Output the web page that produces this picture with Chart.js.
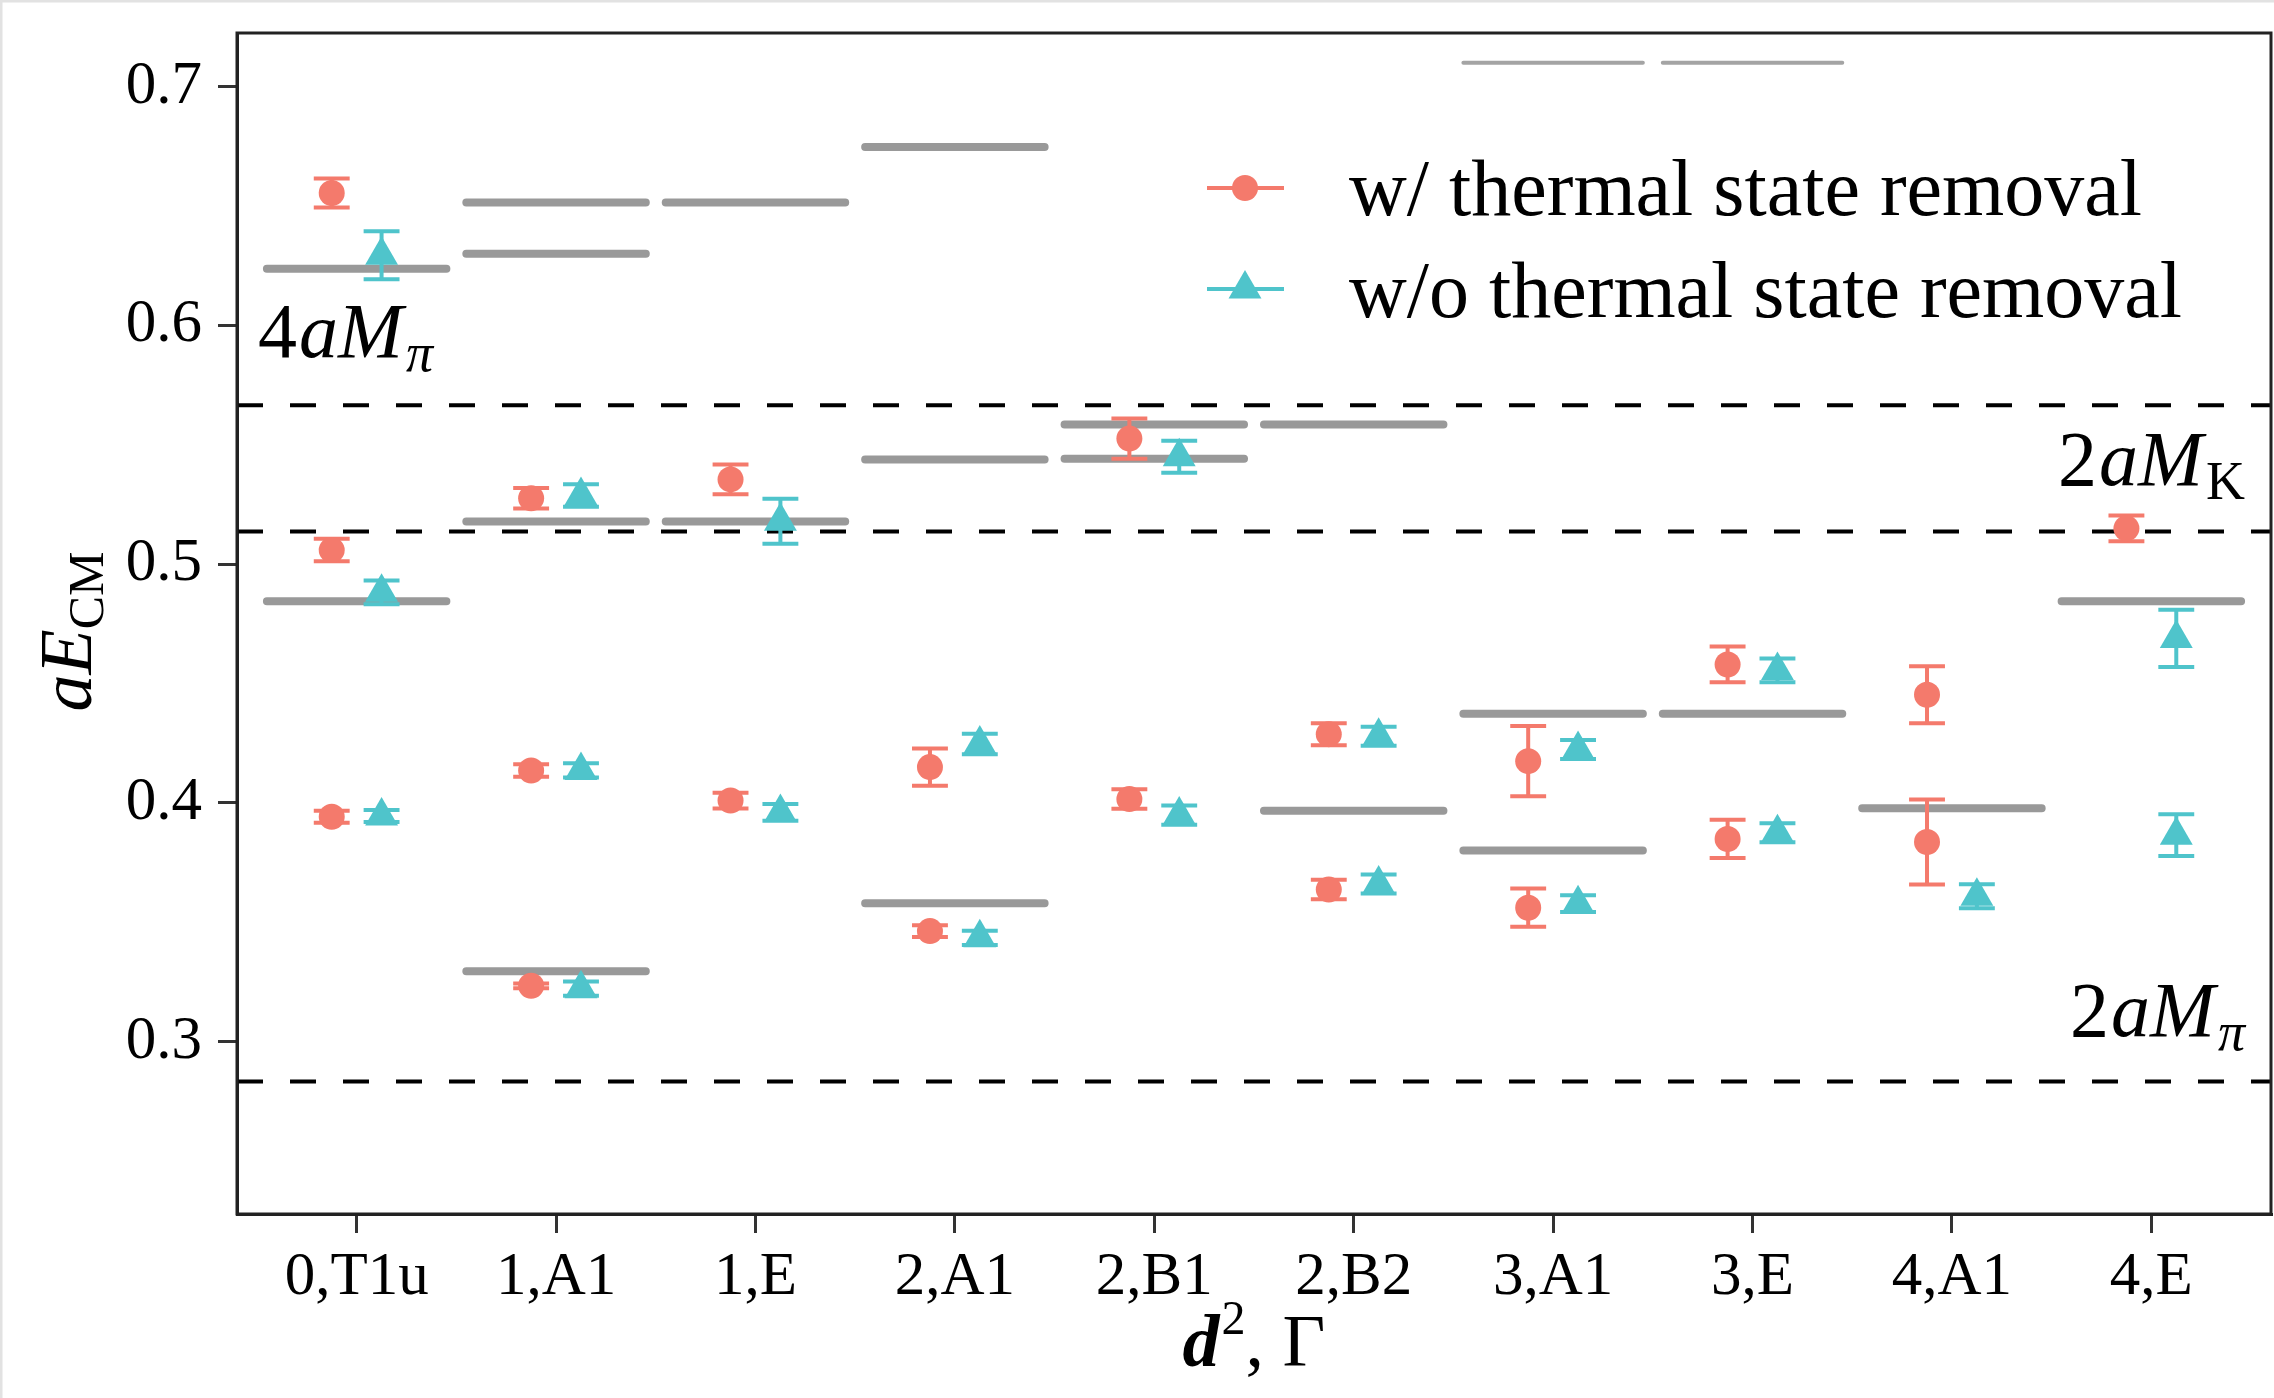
<!DOCTYPE html>
<html><head><meta charset="utf-8">
<script src="https://cdn.jsdelivr.net/npm/chart.js@4.4.0/dist/chart.umd.min.js"></script>
<style>html,body{margin:0;padding:0;background:#fff;overflow:hidden}canvas{display:block}</style>
</head><body>
<canvas id="c" width="2274" height="1398"></canvas>
<script>
// ---------- data ----------
const categories = ['0,T1u','1,A1','1,E','2,A1','2,B1','2,B2','3,A1','3,E','4,A1','4,E'];
const yTickValues = [0.3, 0.4, 0.5, 0.6, 0.7];
const legendLabels = ['w/ thermal state removal', 'w/o thermal state removal'];

// red circles: with thermal state removal
const withIdx = [0,0,0, 1,1,1, 2,2, 3,3, 4,4, 5,5, 6,6, 7,7, 8,8, 9];
const withVal = [0.6555,0.5059,0.3942, 0.5276,0.4136,0.3234, 0.5355,0.4010, 0.4150,0.3463, 0.5526,0.4016, 0.4288,0.3637, 0.4175,0.3561, 0.4580,0.3849, 0.4453,0.3836, 0.5150];
const withErr = [0.0061,0.0047,0.0025, 0.0043,0.0026,0.0010, 0.0062,0.0033, 0.0078,0.0025, 0.0084,0.0041, 0.0046,0.0041, 0.0147,0.0080, 0.0075,0.0080, 0.0119,0.0178, 0.0054];

// cyan triangles: without thermal state removal
const withoutIdx = [0,0,0, 1,1,1, 2,2, 3,3, 4,4, 5,5, 6,6, 7,7, 8, 9,9];
const withoutVal = [0.6294,0.4882,0.3945, 0.5288,0.4136,0.3222, 0.5180,0.3960, 0.4247,0.3435, 0.5450,0.3949, 0.4279,0.3660, 0.4224,0.3578, 0.4555,0.3875, 0.3609, 0.4689,0.3865];
const withoutErr = [0.0101,0.0050,0.0025, 0.0047,0.0030,0.0030, 0.0094,0.0035, 0.0043,0.0030, 0.0067,0.0040, 0.0040,0.0040, 0.0040,0.0035, 0.0050,0.0040, 0.0050, 0.0120,0.0087];

// grey levels (non-interacting energies)
const freeIdx = [0,0, 1,1,1,1, 2,2, 3,3,3, 4,4, 5,5, 6,6, 7, 8, 9];
const freeVal = [0.6238,0.4845, 0.6515,0.6300,0.5179,0.3295, 0.6515,0.5179, 0.6747,0.5438,0.3580, 0.5585,0.5442, 0.5585,0.3967, 0.4373,0.3801, 0.4373, 0.3978, 0.4845];
const freeHighIdx = [6, 7];
const freeHighVal = [0.7100, 0.7100];

// thresholds: 2aMpi, 4aMpi, 2aMK
const thresholdVals = [0.2833, 0.5666, 0.5137];

// ---------- styling ----------
const SERIF = '"Liberation Serif", "Times New Roman", serif';
const RED = '#F47A6C', CYAN = '#4FC4CB', GREY = '#999999';
const DODGE = 0.125, HALF = 0.45, CAP = 0.09;

function segments(idx, vals, half) {
  const pts = [];
  idx.forEach((c, k) => { pts.push({x: c - half, y: vals[k]}, {x: c + half, y: vals[k]}, {x: c + half, y: null}); });
  return pts;
}
function points(idx, vals, off) { return idx.map((c, k) => ({x: c + off, y: vals[k]})); }

const datasets = [];
datasets.push({type:'scatter', label:'with', data: points(withIdx, withVal, -DODGE), errors: withErr,
  pointStyle:'circle', pointRadius:13, pointHoverRadius:13, backgroundColor:RED, borderColor:RED, borderWidth:0, order:0});
datasets.push({type:'scatter', label:'without', data: points(withoutIdx, withoutVal, DODGE), errors: withoutErr,
  pointStyle:'triangle', pointRadius:19, pointHoverRadius:19, backgroundColor:CYAN, borderColor:CYAN, borderWidth:0, order:1});
datasets.push({type:'line', label:'free', data: segments(freeIdx, freeVal, HALF), borderColor:GREY, borderWidth:8,
  borderCapStyle:'round', pointRadius:0, spanGaps:false, tension:0, order:2});
datasets.push({type:'line', label:'freeHigh', data: segments(freeHighIdx, freeHighVal, HALF), borderColor:'#a4a4a4', borderWidth:4,
  borderCapStyle:'round', pointRadius:0, spanGaps:false, tension:0, order:3});
thresholdVals.forEach((v, k) => datasets.push({type:'line', label:'thr'+k, data:[{x:-0.6,y:v},{x:9.6,y:v}],
  borderColor:'#000', borderWidth:4, borderDash:[26,27], pointRadius:0, order:4}));

const errorBars = {
  id:'errorBars',
  beforeDatasetDraw(chart, args) {
    const ds = chart.data.datasets[args.index];
    if (!ds.errors) return;
    const {ctx, scales:{x, y}} = chart;
    ctx.save();
    ctx.strokeStyle = ds.borderColor; ctx.lineWidth = 4;
    ds.data.forEach((p, k) => {
      const e = ds.errors[k];
      const px = x.getPixelForValue(p.x);
      const t = y.getPixelForValue(p.y + e), b = y.getPixelForValue(p.y - e);
      const cw = x.getPixelForValue(p.x + CAP) - px;
      ctx.beginPath();
      ctx.moveTo(px, t); ctx.lineTo(px, b);
      ctx.moveTo(px - cw, t); ctx.lineTo(px + cw, t);
      ctx.moveTo(px - cw, b); ctx.lineTo(px + cw, b);
      ctx.stroke();
    });
    ctx.restore();
  }
};

function drawRuns(ctx, runs, x, y, align) {
  let w = 0;
  runs.forEach(r => { ctx.font = r.font; r.w = ctx.measureText(r.t).width + (r.kern || 0); w += r.w; });
  let cx = align === 'right' ? x - w : align === 'center' ? x - w / 2 : x;
  runs.forEach(r => { ctx.font = r.font; ctx.fillText(r.t, cx, y + (r.dy || 0)); cx += r.w; });
}

const decor = {
  id:'decor',
  afterDraw(chart) {
    const {ctx, chartArea:a} = chart;
    ctx.save();
    // panel border
    ctx.strokeStyle = '#222'; ctx.lineWidth = 3;
    ctx.strokeRect(a.left, a.top, a.right - a.left, a.bottom - a.top);
    // outer faint frame
    ctx.strokeStyle = '#e2e2e2'; ctx.lineWidth = 3;
    ctx.beginPath(); ctx.moveTo(1, 1398); ctx.lineTo(1, 1); ctx.lineTo(2274, 1); ctx.stroke();

    ctx.fillStyle = '#000'; ctx.textBaseline = 'alphabetic'; ctx.textAlign = 'left';
    const F = s => s + 'px ' + SERIF, I = s => 'italic ' + s + 'px ' + SERIF;
    // threshold labels
    drawRuns(ctx, [{t:'4', font:F(78), kern:2}, {t:'aM', font:I(78), kern:3}, {t:'π', font:I(54), dy:14}], a.left + 21, 357, 'left');
    drawRuns(ctx, [{t:'2', font:F(78), kern:2}, {t:'aM', font:I(78), kern:3}, {t:'K', font:F(54), dy:14}], a.right - 26, 485, 'right');
    drawRuns(ctx, [{t:'2', font:F(78), kern:2}, {t:'aM', font:I(78), kern:3}, {t:'π', font:I(54), dy:14}], a.right - 26, 1036, 'right');

    // legend
    const keys = [{c:RED, s:'circle', y:188, ty:215}, {c:CYAN, s:'triangle', y:289, ty:317}];
    keys.forEach((k, i) => {
      ctx.strokeStyle = k.c; ctx.lineWidth = 4;
      ctx.beginPath(); ctx.moveTo(1207, k.y); ctx.lineTo(1284, k.y); ctx.stroke();
      ctx.fillStyle = k.c;
      if (k.s === 'circle') { ctx.beginPath(); ctx.arc(1245, k.y, 13, 0, Math.PI * 2); ctx.fill(); }
      else { const r = 19; ctx.beginPath();
        for (let j = 0; j < 3; j++) { const an = j * 2 * Math.PI / 3; const px = 1245 + Math.sin(an) * r, py = k.y - Math.cos(an) * r; j ? ctx.lineTo(px, py) : ctx.moveTo(px, py); }
        ctx.closePath(); ctx.fill(); }
      ctx.fillStyle = '#000'; ctx.font = F(80);
      ctx.fillText(legendLabels[i], 1349, k.ty);
    });

    // x title: d^2, Γ
    drawRuns(ctx, [{t:'d', font:'bold italic 74px ' + SERIF, kern:2}, {t:'2', font:F(48), dy:-32}, {t:', ', font:F(74)}, {t:'Γ', font:F(74)}],
      (a.left + a.right) / 2, 1366, 'center');

    // y title: aE_CM
    ctx.translate(91, (a.top + a.bottom) / 2 + 8);
    ctx.rotate(-Math.PI / 2);
    drawRuns(ctx, [{t:'aE', font:I(74)}, {t:'CM', font:F(50), dy:12}], 0, 0, 'center');
    ctx.restore();
  }
};

new Chart(document.getElementById('c'), {
  data: { datasets },
  options: {
    responsive:false, animation:false, devicePixelRatio:1,
    layout:{ autoPadding:false, padding:{ left:0, top:33, right:3, bottom:0 } },
    plugins:{ legend:{display:false}, tooltip:{enabled:false} },
    scales:{
      x:{ type:'linear', min:-0.6, max:9.6,
        afterBuildTicks: s => { s.ticks = categories.map((_, i) => ({value:i})); },
        afterFit: s => { s.height = 184; s.paddingLeft = 0; s.paddingRight = 0; s.paddingTop = 0; s.paddingBottom = 0; },
        ticks:{ callback: v => categories[v], font:{family:SERIF, size:61}, color:'#000', padding:8, maxRotation:0, autoSkip:false },
        grid:{ drawOnChartArea:false, drawTicks:true, tickLength:19, color:'#333', lineWidth:3 },
        border:{ display:true, color:'#222', width:3 } },
      y:{ type:'linear', min:0.2278, max:0.7225,
        afterBuildTicks: s => { s.ticks = yTickValues.map(v => ({value:v})); },
        afterFit: s => { s.width = 237; s.paddingLeft = 0; s.paddingRight = 0; s.paddingTop = 0; s.paddingBottom = 0; },
        ticks:{ callback: v => v.toFixed(1), font:{family:SERIF, size:61}, color:'#000', padding:16 },
        grid:{ drawOnChartArea:false, drawTicks:true, tickLength:19, color:'#333', lineWidth:3 },
        border:{ display:true, color:'#222', width:3 } }
    }
  },
  plugins:[errorBars, decor]
});
</script></body></html>
